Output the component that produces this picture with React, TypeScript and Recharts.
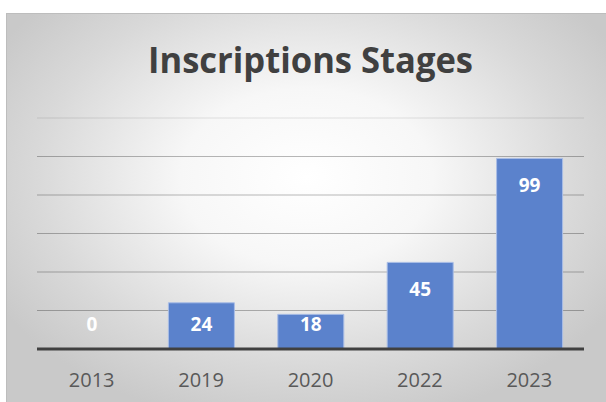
import React from 'react';
import { BarChart, Bar, XAxis, YAxis, CartesianGrid, LabelList, Rectangle } from 'recharts';

const years = ['2013', '2019', '2020', '2022', '2023'];
const stages = [0, 24, 18, 45, 99];
const yTicks = [0, 20, 40, 60, 80, 100, 120];

const data = years.map((year, i) => ({ year, stages: stages[i] }));

const FONT = '"Open Sans", "Noto Sans", sans-serif';
const BASELINE = 349;

const GridLine = (props: any) => {
  const { x1, x2, y1, y2 } = props;
  if (Math.abs(y1 - BASELINE) < 2) return <g />;
  const top = y1 < 125;
  return (
    <line
      x1={x1}
      x2={x2}
      y1={y1}
      y2={y2}
      stroke="#000"
      strokeOpacity={top ? 0.1 : 0.28}
      strokeWidth={1}
    />
  );
};

// zero bars get a min height so the label still shows, but nothing is drawn
const BarShape = (props: any) => {
  if (!props.value) return <g />;
  return <Rectangle {...props} />;
};

const ValueLabel = (props: any) => {
  const { x, y, width, value } = props;
  const baseY = Math.min(y + 34, BASELINE - 18);
  return (
    <text
      x={x + width / 2}
      y={baseY}
      textAnchor="middle"
      fill="#ffffff"
      fontFamily={FONT}
      fontWeight={700}
      fontSize={19}
    >
      {value}
    </text>
  );
};

const YearTick = (props: any) => {
  const { x, payload } = props;
  return (
    <text x={x} y={BASELINE + 38} textAnchor="middle" fill="#595959" fontFamily={FONT} fontSize={20}>
      {payload.value}
    </text>
  );
};

export default function App() {
  return (
    <div style={{ position: 'absolute', left: 0, top: 0, width: 606, height: 402, background: '#fff' }}>
      <div
        style={{
          position: 'absolute',
          left: 6,
          top: 13,
          width: 600,
          height: 389,
          borderTop: '1px solid #bdbdbd',
          borderLeft: '1px solid #bdbdbd',
          boxSizing: 'border-box',
          background: 'radial-gradient(ellipse 60% 65% at 50% 42%, #ffffff 0%, #f7f7f7 35%, #d9d9d9 75%, #c9c9c9 100%)',
        }}
      />
      <div style={{ position: 'absolute', left: 0, top: 0 }}>
        <BarChart
          width={606}
          height={402}
          data={data}
          margin={{ top: 118, right: 22, bottom: 0, left: 37 }}
          barSize={66}
        >
          <text
            x={310.5}
            y={73}
            textAnchor="middle"
            fill="#404040"
            fontFamily={FONT}
            fontWeight={700}
            fontSize={35}
            textLength={325}
            lengthAdjust="spacingAndGlyphs"
          >
            Inscriptions Stages
          </text>
          <CartesianGrid vertical={false} horizontal={GridLine} />
          <YAxis hide domain={[0, 120]} ticks={yTicks} />
          <XAxis
            dataKey="year"
            height={53}
            axisLine={{ stroke: '#404040', strokeWidth: 3 }}
            tickLine={false}
            tick={YearTick}
          />
          <Bar
            dataKey="stages"
            fill="#5B82CC"
            stroke="#a9bde6"
            strokeWidth={1}
            minPointSize={1}
            shape={BarShape}
            isAnimationActive={false}
          >
            <LabelList dataKey="stages" content={ValueLabel} />
          </Bar>
        </BarChart>
      </div>
    </div>
  );
}
